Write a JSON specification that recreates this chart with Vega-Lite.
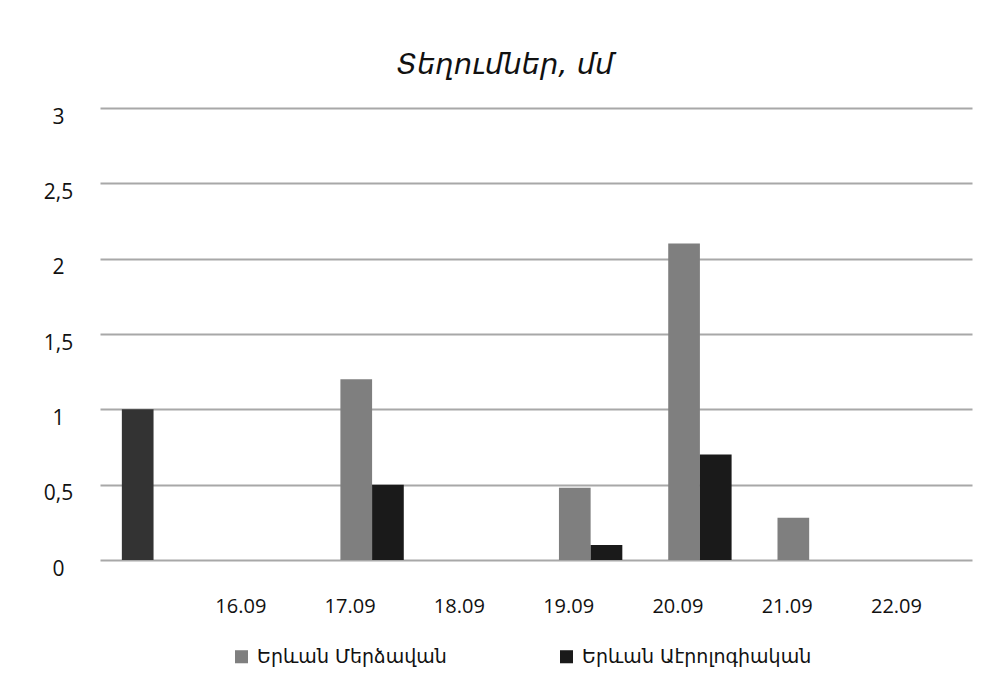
{
  "$schema": "https://vega.github.io/schema/vega-lite/v6.json",
  "width": 872,
  "height": 452,
  "autosize": "none",
  "padding": {"left": 100, "top": 108, "right": 14, "bottom": 129},
  "background": "white",
  "title": {
    "text": "Տեղումներ, մմ",
    "font": "DejaVu Sans",
    "fontStyle": "italic",
    "fontWeight": "normal",
    "fontSize": 29,
    "color": "#111111",
    "anchor": "middle",
    "dx": -31,
    "offset": 26
  },
  "config": {
    "view": {"stroke": null}
  },
  "data": {
    "values": [
      {"date": " ", "series": "Երևան Մերձավան", "value": 1.0},
      {"date": "17.09", "series": "Երևան Մերձավան", "value": 1.2},
      {"date": "17.09", "series": "Երևան Աէրոլոգիական", "value": 0.5},
      {"date": "18.09", "series": "Երևան Աէրոլոգիական", "value": 0.0},
      {"date": "19.09", "series": "Երևան Մերձավան", "value": 0.48},
      {"date": "19.09", "series": "Երևան Աէրոլոգիական", "value": 0.1},
      {"date": "20.09", "series": "Երևան Մերձավան", "value": 2.1},
      {"date": "20.09", "series": "Երևան Աէրոլոգիական", "value": 0.7},
      {"date": "21.09", "series": "Երևան Մերձավան", "value": 0.28}
    ]
  },
  "mark": {"type": "bar"},
  "encoding": {
    "x": {
      "field": "date",
      "type": "ordinal",
      "scale": {"domain": [" ", "16.09", "17.09", "18.09", "19.09", "20.09", "21.09", "22.09"], "paddingInner": 0.42},
      "axis": {
        "title": null,
        "labelAngle": 0,
        "labelPadding": 36,
        "labelOffset": -22,
        "domain": false,
        "ticks": false,
        "labelFont": "Open Sans",
        "labelFontSize": 20,
        "labelColor": "#111111"
      }
    },
    "xOffset": {
      "field": "series",
      "type": "nominal",
      "scale": {"domain": ["Երևան Մերձավան", "Երևան Աէրոլոգիական"]}
    },
    "y": {
      "field": "value",
      "type": "quantitative",
      "scale": {"domain": [0, 3]},
      "axis": {
        "title": null,
        "values": [0, 0.5, 1, 1.5, 2, 2.5, 3],
        "labelExpr": "replace(format(datum.value, '~g'), '.', ',')",
        "domain": false,
        "ticks": false,
        "grid": true,
        "gridColor": "#a8a8a8",
        "gridWidth": 2,
        "labelFont": "Open Sans",
        "labelFontSize": 21,
        "labelColor": "#111111",
        "labelAlign": "center",
        "labelPadding": 42,
        "labelOffset": 9
      }
    },
    "color": {
      "condition": {"test": "datum.date === ' '", "value": "#333333"},
      "field": "series",
      "type": "nominal",
      "scale": {"domain": ["Երևան Մերձավան", "Երևան Աէրոլոգիական"], "range": ["#7f7f7f", "#1a1a1a"]},
      "legend": {
        "title": null,
        "orient": "none",
        "direction": "horizontal",
        "legendX": 132,
        "legendY": 539,
        "columnPadding": 110,
        "symbolType": "square",
        "symbolSize": 170,
        "symbolStrokeWidth": 0,
        "labelFont": "DejaVu Sans",
        "labelFontSize": 19,
        "labelLimit": 400,
        "labelOffset": 6,
        "labelColor": "#111111"
      }
    }
  }
}
